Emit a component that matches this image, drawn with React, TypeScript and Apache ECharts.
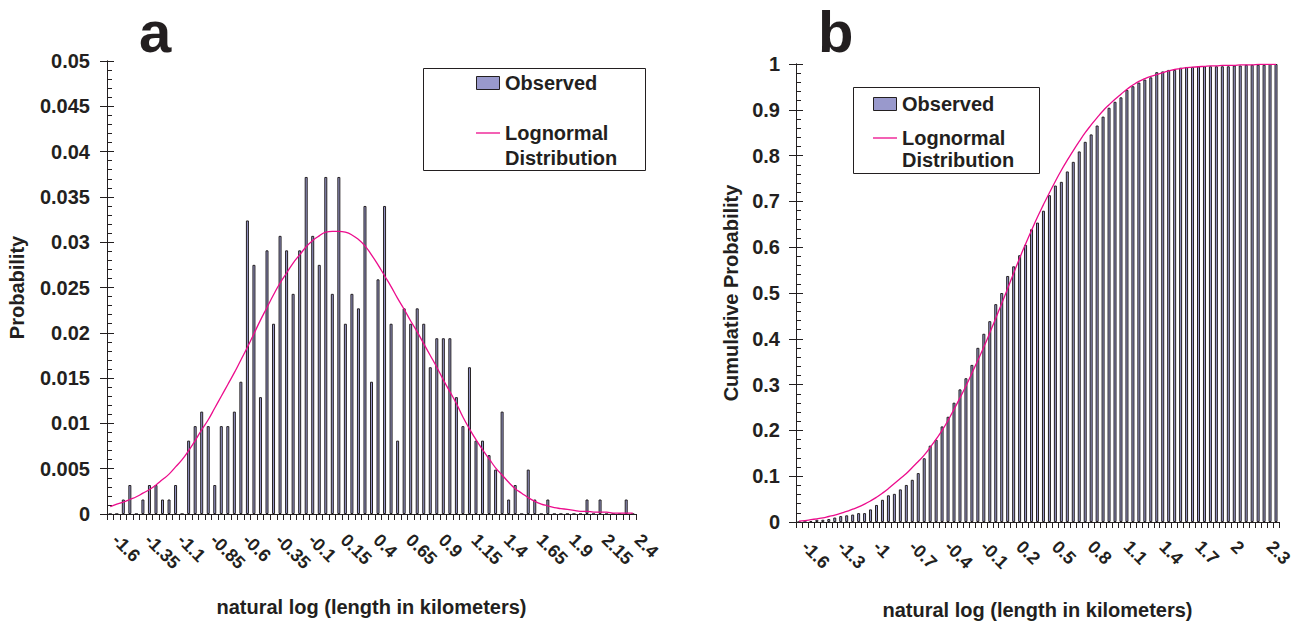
import React, { useEffect, useRef } from "react";
import * as echarts from "echarts";

// natural log (length in km) bin centres, shared by both panels
const categories = [
  "-1.6", "-1.55", "-1.5", "-1.45", "-1.4", "-1.35", "-1.3", "-1.25", "-1.2", "-1.15",
  "-1.1", "-1.05", "-1", "-0.95", "-0.9", "-0.85", "-0.8", "-0.75", "-0.7", "-0.65",
  "-0.6", "-0.55", "-0.5", "-0.45", "-0.4", "-0.35", "-0.3", "-0.25", "-0.2", "-0.15",
  "-0.1", "-0.05", "0", "0.05", "0.1", "0.15", "0.2", "0.25", "0.3", "0.35",
  "0.4", "0.45", "0.5", "0.55", "0.6", "0.65", "0.7", "0.75", "0.8", "0.85",
  "0.9", "0.95", "1", "1.05", "1.1", "1.15", "1.2", "1.25", "1.3", "1.35",
  "1.4", "1.45", "1.5", "1.55", "1.6", "1.65", "1.7", "1.75", "1.8", "1.85",
  "1.9", "1.95", "2", "2.05", "2.1", "2.15", "2.2", "2.25", "2.3", "2.35",
  "2.4",
];

// panel a: observed probability per bin
const observedA = [
  0, 0, 0.0016, 0.0032, 0, 0.0016, 0.0032, 0.0032, 0.0016, 0.0016,
  0.0032, 0, 0.0081, 0.0097, 0.0113, 0.0097, 0.0032, 0.0097, 0.0097, 0.0113,
  0.0146, 0.0324, 0.0275, 0.0129, 0.0291, 0.021, 0.0307, 0.0291, 0.0243, 0.0291,
  0.0372, 0.0307, 0.0275, 0.0372, 0.0243, 0.0372, 0.021, 0.0243, 0.0227, 0.034,
  0.0146, 0.0259, 0.034, 0.021, 0.0081, 0.0227, 0.021, 0.0227, 0.021, 0.0162,
  0.0194, 0.0194, 0.0194, 0.0129, 0.0097, 0.0162, 0.0081, 0.0081, 0.0065, 0.0049,
  0.0113, 0.0016, 0.0032, 0, 0.0049, 0.0016, 0, 0.0016, 0, 0,
  0, 0, 0, 0.0016, 0, 0.0016, 0, 0, 0, 0.0016,
  0,
];

// panel a: lognormal distribution curve
const lognormalA = [
  0.0008, 0.0011, 0.0013, 0.0016, 0.0019, 0.0023, 0.0027, 0.0032, 0.0038, 0.0044,
  0.0052, 0.006, 0.007, 0.0081, 0.0093, 0.0104, 0.0117, 0.013, 0.0143, 0.0156,
  0.017, 0.0184, 0.0199, 0.0214, 0.0228, 0.0242, 0.0255, 0.0266, 0.0277, 0.0286,
  0.0295, 0.0302, 0.0307, 0.0311, 0.0312, 0.0312, 0.0311, 0.0308, 0.0303, 0.0296,
  0.0286, 0.0275, 0.0263, 0.0251, 0.0238, 0.0226, 0.0213, 0.0201, 0.0188, 0.0175,
  0.0162, 0.0148, 0.0135, 0.0122, 0.0107, 0.0094, 0.0082, 0.0071, 0.0061, 0.0051,
  0.0043, 0.0035, 0.0028, 0.0023, 0.0018, 0.0014, 0.0011, 0.0009, 0.0007, 0.0006,
  0.0005, 0.0004, 0.0003, 0.0003, 0.0002, 0.0002, 0.0002, 0.0001, 0.0001, 0.0001,
  0.0001,
];

// panel b: observed cumulative probability
const observedB = [
  0, 0, 0.0016, 0.0049, 0.0049, 0.0065, 0.0097, 0.0129, 0.0146, 0.0162,
  0.0194, 0.0194, 0.0275, 0.0372, 0.0485, 0.0583, 0.0615, 0.0712, 0.0809, 0.0922,
  0.1068, 0.1392, 0.1667, 0.1796, 0.2087, 0.2298, 0.2605, 0.2896, 0.3139, 0.343,
  0.3803, 0.411, 0.4385, 0.4757, 0.5, 0.5372, 0.5583, 0.5825, 0.6052, 0.6392,
  0.6537, 0.6796, 0.7136, 0.7346, 0.7427, 0.7654, 0.7864, 0.8091, 0.8301, 0.8463,
  0.8657, 0.8851, 0.9045, 0.9175, 0.9272, 0.9434, 0.9515, 0.9595, 0.966, 0.9709,
  0.9822, 0.9838, 0.9871, 0.9871, 0.9919, 0.9935, 0.9935, 0.9951, 0.9951, 0.9951,
  0.9951, 0.9951, 0.9951, 0.9968, 0.9968, 0.9984, 0.9984, 0.9984, 0.9984, 1,
  1,
];

// panel b: lognormal cumulative curve
const lognormalB = [
  0.002, 0.003, 0.005, 0.007, 0.009, 0.012, 0.015, 0.019, 0.023, 0.028,
  0.033, 0.039, 0.046, 0.054, 0.063, 0.073, 0.084, 0.095, 0.106, 0.119,
  0.132, 0.146, 0.163, 0.181, 0.2, 0.222, 0.246, 0.271, 0.297, 0.325,
  0.353, 0.382, 0.413, 0.445, 0.477, 0.51, 0.543, 0.576, 0.607, 0.637,
  0.666, 0.693, 0.719, 0.744, 0.768, 0.79, 0.811, 0.831, 0.85, 0.867,
  0.883, 0.898, 0.911, 0.923, 0.934, 0.945, 0.954, 0.962, 0.968, 0.973,
  0.977, 0.981, 0.985, 0.988, 0.99, 0.992, 0.993, 0.994, 0.995, 0.996,
  0.996, 0.997, 0.997, 0.997, 0.998, 0.998, 0.998, 0.999, 0.999, 0.999,
  0.999,
];

const seriesNames = ["Observed", "Lognormal Distribution"];
const panelLabels = ["a", "b"];
const xTitle = "natural log (length in kilometers)";
const yTitles = ["Probability", "Cumulative Probability"];

const FONT = "'Liberation Sans', Arial, Helvetica, sans-serif";
const INK = "#231F20";
const MAGENTA = "#EC0C8C";
const BAR_FILL = "#9999CC";

const labelStyle = (size: number) => ({
  fontFamily: FONT,
  fontWeight: "bold" as const,
  fontSize: size,
  color: INK,
});

function xAxisFor(
  gridIndex: number,
  labelInterval: number,
  nameGap: number,
  margin: number,
  pad: number
) {
  return {
    type: "category" as const,
    gridIndex,
    data: categories,
    boundaryGap: true,
    axisLine: { show: true, lineStyle: { color: INK, width: 1 } },
    axisTick: { show: true, interval: 0, length: 6, lineStyle: { color: INK, width: 1 } },
    axisLabel: {
      ...labelStyle(18),
      interval: labelInterval,
      rotate: -45,
      margin,
      padding: [0, 0, 0, pad],
    },
    splitLine: { show: false },
    name: xTitle,
    nameLocation: "middle" as const,
    nameGap,
    nameTextStyle: labelStyle(20),
  };
}

function yAxesFor(
  gridIndex: number,
  max: number,
  interval: number,
  name: string,
  nameGap: number,
  labelMargin: number
) {
  const common = {
    type: "value" as const,
    gridIndex,
    position: "left" as const,
    offset: 0,
    min: 0,
    max,
    interval,
    splitLine: { show: false },
    axisLine: { show: true, lineStyle: { color: INK, width: 1 } },
  };
  return [
    {
      ...common,
      axisTick: { show: true, length: 7, lineStyle: { color: INK, width: 1 } },
      axisLabel: { ...labelStyle(20), margin: labelMargin },
      name,
      nameLocation: "middle" as const,
      nameGap,
      nameTextStyle: labelStyle(20),
    },
    {
      ...common,
      axisTick: { show: true, inside: true, length: 7, lineStyle: { color: INK, width: 1 } },
      minorTick: { show: true, splitNumber: 5, length: 5, lineStyle: { color: INK, width: 1 } },
      axisLabel: { show: false },
    },
  ];
}

function legendGraphic(
  box: { x: number; y: number; w: number; h: number },
  iconX: number,
  textX: number,
  obsY: number,
  lineY: number,
  line2Y: number
) {
  const txt = (text: string, y: number) => ({
    type: "text",
    x: textX,
    y,
    z: 101,
    style: {
      text,
      fill: INK,
      fontFamily: FONT,
      fontWeight: "bold",
      fontSize: 20,
      align: "left",
      verticalAlign: "middle",
    },
  });
  return [
    {
      type: "rect",
      z: 100,
      shape: { x: box.x + 0.5, y: box.y + 0.5, width: box.w, height: box.h },
      style: { fill: "#ffffff", stroke: INK, lineWidth: 1 },
    },
    {
      type: "rect",
      z: 101,
      shape: { x: iconX + 0.5, y: obsY - 6.5, width: 23, height: 13 },
      style: { fill: BAR_FILL, stroke: INK, lineWidth: 1 },
    },
    txt(seriesNames[0], obsY),
    {
      type: "line",
      z: 101,
      shape: { x1: iconX, y1: lineY, x2: iconX + 24, y2: lineY },
      style: { stroke: MAGENTA, lineWidth: 1.3 },
    },
    txt("Lognormal", lineY),
    txt("Distribution", line2Y),
  ];
}

function panelLetter(text: string, x: number) {
  return {
    type: "text",
    x,
    y: 31,
    z: 101,
    style: {
      text,
      fill: INK,
      fontFamily: FONT,
      fontWeight: "bold",
      fontSize: 58,
      align: "left",
      verticalAlign: "middle",
    },
  };
}

export default function App() {
  const ref = useRef<HTMLDivElement>(null);

  useEffect(() => {
    if (!ref.current) return;
    const chart = echarts.init(ref.current, undefined, { renderer: "svg" });

    const barStyle = { color: BAR_FILL, borderColor: INK, borderWidth: 1 };
    const lineStyle = { color: MAGENTA, width: 1.3 };

    const option = {
      animation: false,
      backgroundColor: "#ffffff",
      grid: [
        { left: 107, top: 61, width: 529, height: 453, outerBoundsMode: "none", containLabel: false },
        { left: 796, top: 64, width: 483, height: 458, outerBoundsMode: "none", containLabel: false },
      ],
      xAxis: [xAxisFor(0, 4, 83, 18, 7), xAxisFor(1, 5, 78, 16, 8)],
      yAxis: [
        ...yAxesFor(0, 0.05, 0.005, yTitles[0], 80, 17),
        ...yAxesFor(1, 1, 0.1, yTitles[1], 55, 16),
      ],
      series: [
        {
          type: "bar",
          name: seriesNames[0],
          xAxisIndex: 0,
          yAxisIndex: 0,
          data: observedA,
          barWidth: 3,
          itemStyle: barStyle,
        },
        {
          type: "line",
          name: seriesNames[1],
          xAxisIndex: 0,
          yAxisIndex: 0,
          data: lognormalA,
          smooth: true,
          showSymbol: false,
          symbol: "none",
          lineStyle,
          itemStyle: { color: MAGENTA },
        },
        {
          type: "bar",
          name: seriesNames[0],
          xAxisIndex: 1,
          yAxisIndex: 2,
          data: observedB,
          barWidth: 3,
          itemStyle: barStyle,
        },
        {
          type: "line",
          name: seriesNames[1],
          xAxisIndex: 1,
          yAxisIndex: 2,
          data: lognormalB,
          smooth: true,
          showSymbol: false,
          symbol: "none",
          lineStyle,
          itemStyle: { color: MAGENTA },
        },
      ],
      graphic: [
        panelLetter(panelLabels[0], 139),
        panelLetter(panelLabels[1], 818),
        ...legendGraphic({ x: 423, y: 68, w: 222, h: 102 }, 476, 505, 83, 133, 158),
        ...legendGraphic({ x: 853, y: 87, w: 186, h: 86 }, 873, 902, 104, 138, 160),
      ],
    };

    chart.setOption(option as any);
    return () => chart.dispose();
  }, []);

  return (
    <div
      ref={ref}
      style={{ position: "fixed", left: 0, top: 0, width: 1308, height: 625, background: "#fff" }}
    />
  );
}
